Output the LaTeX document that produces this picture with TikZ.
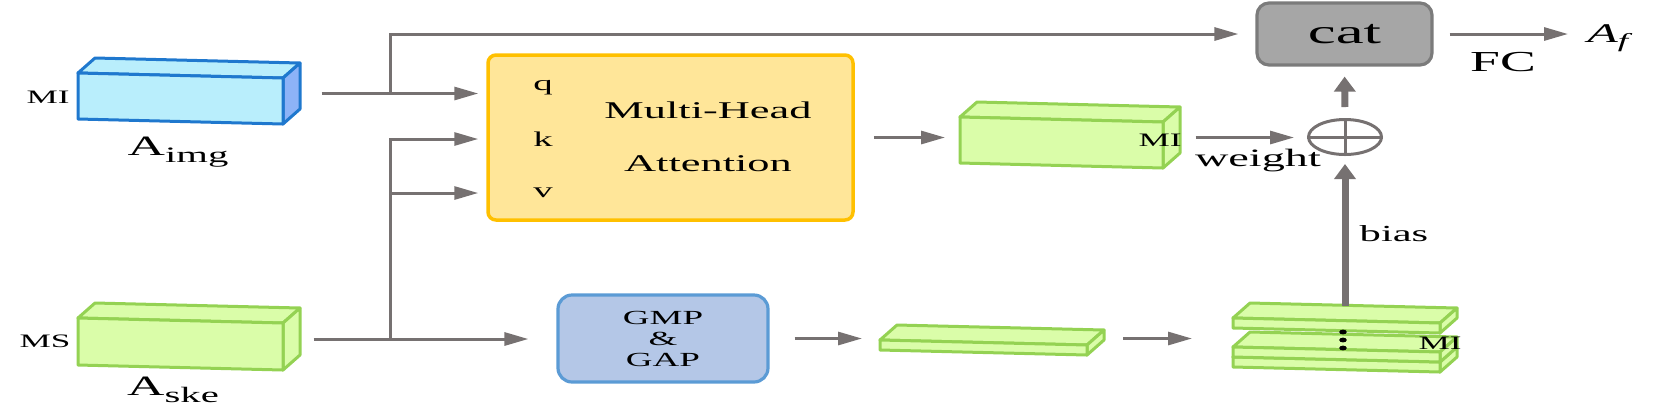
\documentclass[tikz,border=0pt]{standalone}
\usepackage{fontspec}
\setmainfont{Liberation Serif}
\usepackage{graphicx}
\usepackage{tikz}
\usetikzlibrary{arrows.meta, shapes.geometric, positioning, calc}

\definecolor{grisflecha}{HTML}{767171}
\definecolor{azulborde}{HTML}{1F78CE}
\definecolor{azulfondo}{HTML}{B9EEFC}
\definecolor{azullado}{HTML}{8DB3F7}
\definecolor{verdeborde}{HTML}{94D253}
\definecolor{verdefondo}{HTML}{DAFDA9}
\definecolor{amarillofondo}{HTML}{FFE699}
\definecolor{amarilloborde}{HTML}{FFC000}
\definecolor{grisfondo}{HTML}{A6A6A6}
\definecolor{grisborde}{HTML}{7B7B7B}
\definecolor{gapfondo}{HTML}{B4C7E7}
\definecolor{gapborde}{HTML}{5B9BD5}

\newcommand{\ancho}[1]{\scalebox{1.85}[1]{#1}}
% bloque: nombre, x, y, ancho, alto, relleno, lado, borde
\newcommand{\bloque}[8]{%
  \filldraw[draw=#8, fill=#6, line width=1.5pt, line join=round]
    (#2,#3) -- ++(17,-15) -- ++(#4,5) -- ++(-17,15) -- cycle;
  \filldraw[draw=#8, fill=#7, line width=1.5pt, line join=round]
    (#2+#4,#3+5) -- ++(17,-15) -- ++(0,#5) -- ++(-17,15) -- cycle;
  \filldraw[draw=#8, fill=#6, line width=1.5pt, line join=round]
    (#2,#3) -- ++(#4,5) -- ++(0,#5) -- ++(-#4,-5) -- cycle;
  \coordinate (#1-o) at (#2,#3+#5/2+2.5);
  \coordinate (#1-e) at (#2+#4+8.5,#3+#5/2-2.5);
  \coordinate (#1-n) at (#2+#4/2+17,#3-12.5);%
}

\begin{document}
\begin{tikzpicture}[x=0.5pt, y=-0.5pt,
  flecha/.style={draw=grisflecha, line width=1.5pt, -{Triangle[length=12pt, width=6.5pt]}},
  gruesa/.style={draw=grisflecha, line width=3.5pt, -{Triangle[length=7.5pt, width=10.5pt]}},
  caja/.style={draw, rounded corners=5pt, line width=1.6pt},
  etiqueta/.style={inner sep=0pt, font=\fontsize{9.5}{9.5}\selectfont}]
  \useasboundingbox (0,0) rectangle (1662,404);

  % bloques de entrada y salida
  \bloque{aimg}{78}{73}{205}{46}{azulfondo}{azullado}{azulborde}
  \bloque{aske}{78}{318}{205}{47}{verdefondo}{verdefondo}{verdeborde}
  \bloque{verde}{960}{117}{203}{46}{verdefondo}{verdefondo}{verdeborde}
  \bloque{barra}{880}{340}{207}{10}{verdefondo}{verdefondo}{verdeborde}
  \bloque{pilab}{1233}{357}{207}{10}{verdefondo}{verdefondo}{verdeborde}
  \bloque{pilam}{1233}{347}{207}{10}{verdefondo}{verdefondo}{verdeborde}
  \bloque{pila}{1233}{318}{207}{10}{verdefondo}{verdefondo}{verdeborde}
  \foreach \y in {332,340,348}
    \fill (1343,\y) ellipse (1.9pt and 1.2pt);

  \node[etiqueta] (mi1) at (48,97) {\ancho{MI}};
  \node[etiqueta] (ms) at (45,341) {\ancho{MS}};
  \node[etiqueta] (mi2) at (1160,140) {\ancho{MI}};
  \node[etiqueta] (mi3) at (1440,343) {\ancho{MI}};
  \node[anchor=base, inner sep=0pt, font=\fontsize{14}{14}\selectfont] (timg) at (178,155)
    {\ancho{A\raisebox{-3.5pt}{\fontsize{11}{11}\selectfont img}}};
  \node[anchor=base, inner sep=0pt, font=\fontsize{14}{14}\selectfont] (tske) at (173,395)
    {\ancho{A\raisebox{-3.5pt}{\fontsize{11}{11}\selectfont ske}}};

  % cajas
  \node[caja, draw=amarilloborde, fill=amarillofondo, minimum width=182.5pt,
    minimum height=82.5pt, rounded corners=4pt, line width=1.75pt] (att) at (670.5,137.5) {};
  \node[inner sep=0pt, font=\fontsize{12}{26.5}\selectfont, align=center] (mha) at (708,137)
    {\ancho{Multi-Head}\\\ancho{Attention}};
  \node[etiqueta, font=\fontsize{10.5}{10.5}\selectfont] (q) at (543,88) {\ancho{q}};
  \node[etiqueta, font=\fontsize{10.5}{10.5}\selectfont] (k) at (543,139) {\ancho{k}};
  \node[etiqueta, font=\fontsize{10.5}{10.5}\selectfont] (v) at (543,193) {\ancho{v}};
  \node[caja, draw=grisborde, fill=grisfondo, minimum width=87.5pt, minimum height=31pt,
    rounded corners=6pt, inner sep=0pt, font=\fontsize{17}{17}\selectfont] (cat) at (1344.5,34) {\ancho{cat}};
  \node[caja, draw=gapborde, fill=gapfondo, minimum width=105pt, minimum height=43.5pt,
    rounded corners=7pt, inner sep=0pt, align=center, font=\fontsize{10}{10.5}\selectfont] (gmp) at (663,338.5)
    {\ancho{GMP}\\\ancho{\&}\\\ancho{GAP}};
  \node[ellipse, draw=grisflecha, line width=1.5pt, minimum width=36.5pt,
    minimum height=17.5pt, inner sep=0pt] (suma) at (1345,137) {};
  \draw[grisflecha, line width=1.5pt] (suma.north) -- (suma.south) (suma.west) -- (suma.east);

  \node[etiqueta, font=\fontsize{12.5}{12.5}\selectfont] (tw) at (1258,161) {\ancho{weight}};
  \node[etiqueta, font=\fontsize{11.5}{11.5}\selectfont] (tb) at (1394,234) {\ancho{bias}};
  \node[etiqueta, font=\fontsize{14.5}{14.5}\selectfont] (fc) at (1503,62) {\ancho{FC}};
  \node[anchor=base west, inner sep=0pt, font=\fontsize{13.5}{13.5}\selectfont\itshape] (af) at (1587,42)
    {\ancho{A\raisebox{-2.5pt}{\fontsize{10}{10}\selectfont f}}};

  % flechas
  \draw[flecha, shorten <=15pt, shorten >=4pt] (aimg-e) -- (aimg-e -| att.west);
  \path (aimg-e) ++(98.5,0) coordinate (rama1);
  \draw[flecha, shorten >=8.5pt] (rama1) |- (cat.west);
  \draw[flecha, shorten <=11pt, shorten >=14pt] (aske-e) -- (aske-e -| gmp.west);
  \path (aske-e) ++(98.5,0) coordinate (rama2);
  \draw[flecha, shorten >=4pt] (rama2) |- (k -| att.west);
  \draw[flecha, shorten >=4pt] (rama2) |- (v -| att.west);
  \draw[flecha, shorten <=9.5pt, shorten >=7.5pt] (att.east) -- (att.east -| verde-o);
  \draw[flecha, shorten <=12pt, shorten >=6.5pt] (verde-e) -- (verde-e -| suma.west);
  \draw[gruesa, shorten <=5.5pt, shorten >=5pt] (suma.north) -- (cat.south);
  \draw[gruesa, shorten >=4pt] (suma.south |- pila-n) -- (suma.south);
  \draw[flecha, shorten <=12.5pt, shorten >=9pt] (gmp.east) -- (gmp.east -| barra-o);
  \draw[flecha, shorten <=13.75pt, shorten >=20.5pt] (barra-e |- gmp.east) -- (gmp.east -| pila-o);
  \draw[flecha, shorten <=8pt, shorten >=9.5pt] (cat.east) -- (cat.east -| af.west);
\end{tikzpicture}
\end{document}
